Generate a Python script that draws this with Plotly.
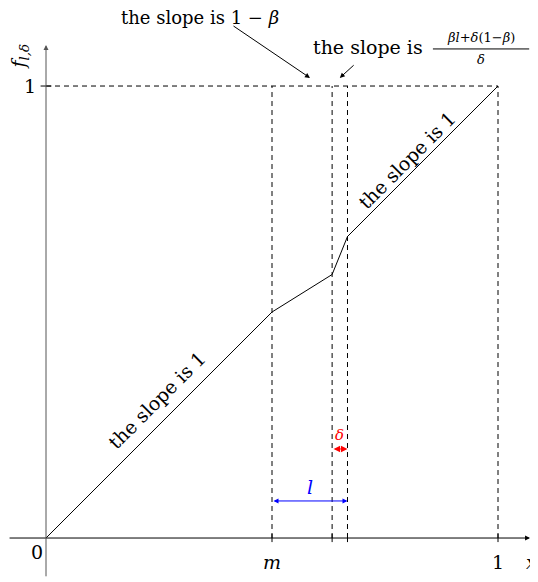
import plotly.graph_objects as go

# piecewise curve f_{l,delta}
curve_x = [0.0, 0.5, 0.633, 0.667, 1.0]
curve_y = [0.0, 0.5, 0.583, 0.667, 1.0]
guide_x = [0.5, 0.633, 0.667, 1.0]
guide_top = 1.0
tick_labels_x = ["m", "", "", "1"]

FONT = "DejaVu Serif"
ink = "black"

fig = go.Figure()
fig.add_trace(go.Scatter(x=curve_x, y=curve_y, mode="lines",
                         line=dict(color=ink, width=1), hoverinfo="skip"))

shapes = []
# dashed guides
shapes.append(dict(type="line", x0=0, x1=guide_x[-1], y0=guide_top, y1=guide_top,
                   line=dict(color=ink, width=1, dash="5px,4px")))
for gx in guide_x:
    shapes.append(dict(type="line", x0=gx, x1=gx, y0=0, y1=guide_top,
                       line=dict(color=ink, width=1, dash="5px,4px")))
    shapes.append(dict(type="line", x0=gx, x1=gx, y0=-0.009, y1=0.009,
                       line=dict(color=ink, width=1)))
shapes.append(dict(type="line", x0=-0.012, x1=0.012, y0=guide_top, y1=guide_top,
                   line=dict(color=ink, width=1)))
# fraction bar
shapes.append(dict(type="line", x0=0.856, x1=1.069, y0=1.082, y1=1.082,
                   line=dict(color=ink, width=1)))

ann = []
def arrow(x, y, ax, ay, color=ink, both=False, width=1, size=1):
    ann.append(dict(x=x, y=y, ax=ax, ay=ay, xref="x", yref="y", axref="x", ayref="y",
                    text="", showarrow=True, arrowhead=2, startarrowhead=2,
                    arrowsize=size, startarrowsize=size,
                    arrowside="end+start" if both else "end",
                    arrowwidth=width, arrowcolor=color, standoff=0, startstandoff=0))

# axes
arrow(1.071, 0, -0.084, 0)
arrow(0, 1.091, 0, -0.088, color="#555555")
# pointer arrows
arrow(0.584, 1.018, 0.4115, 1.135)
arrow(0.650, 1.018, 0.684, 1.049)
# l and delta
arrow(guide_x[2], 0.082, guide_x[0], 0.082, color="blue", both=True)
arrow(guide_x[2], 0.197, guide_x[1], 0.197, color="red", both=True, size=1.3)

def label(x, y, text, size=19, color=ink, angle=0):
    ann.append(dict(x=x, y=y, xref="x", yref="y", text=text, showarrow=False,
                    textangle=angle, font=dict(family=FONT, size=size, color=color)))

label(-0.020, -0.031, "0")
for gx, t in zip(guide_x, tick_labels_x):
    if t:
        label(gx, -0.052, "<i>%s</i>" % t if t == "m" else t)
label(1.074, -0.052, "<i>x</i>")
label(-0.035, 1.0, "1")
label(-0.058, 1.065, "<i>f</i><sub><i>l,δ</i></sub>", angle=-90)
label(0.341, 1.152, "the slope is 1 − <i>β</i>", size=18)
label(0.712, 1.086, "the slope is")
label(0.962, 1.107, "<i>βl</i>+<i>δ</i>(1−<i>β</i>)", size=13)
label(0.962, 1.058, "<i>δ</i>", size=13)
label(0.2456, 0.305, "the slope is 1", angle=-45)
label(0.799, 0.836, "the slope is 1", angle=-45)
label(0.584, 0.113, "<i>l</i>", color="blue")
label(0.650, 0.228, "<i>δ</i>", size=15, color="red")

# the page body has an 8px margin, so the figure's pixel 0 sits at window pixel 8
fig.update_layout(
    width=538, height=582, margin=dict(l=0, r=0, t=0, b=0),
    plot_bgcolor="white", paper_bgcolor="white", showlegend=False,
    shapes=shapes, annotations=ann,
    xaxis=dict(visible=False, range=[-0.0841, 1.1062]),
    yaxis=dict(visible=False, range=[-0.1150, 1.1726]),
)
fig.write_html("out.html")
